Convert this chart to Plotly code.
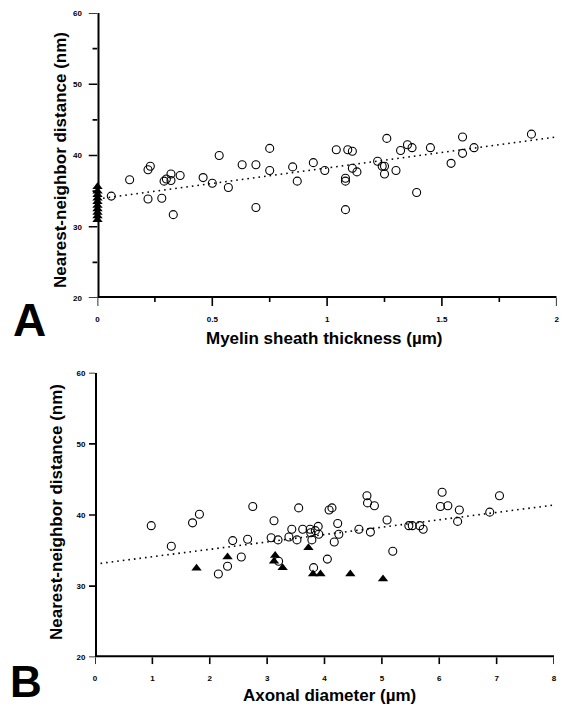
import plotly.graph_objects as go

# ---- Panel A data ----
a_circ_x = [0.06, 0.14, 0.22, 0.23, 0.22, 0.28, 0.29, 0.30, 0.32, 0.32, 0.36, 0.33, 0.46, 0.50, 0.53,
            0.57, 0.63, 0.69, 0.69, 0.75, 0.75, 0.85, 0.87, 0.94, 0.99, 1.04, 1.09, 1.11, 1.11, 1.13,
            1.08, 1.08, 1.08, 1.22, 1.24, 1.25, 1.25, 1.26, 1.30, 1.32, 1.35, 1.37, 1.39, 1.45, 1.54,
            1.59, 1.59, 1.64, 1.89]
a_circ_y = [34.3, 36.6, 38.0, 38.5, 33.9, 34.0, 36.4, 36.7, 37.4, 36.5, 37.2, 31.7, 36.9, 36.1, 40.0,
            35.5, 38.7, 38.7, 32.7, 41.0, 37.9, 38.4, 36.4, 39.0, 37.9, 40.8, 40.8, 40.6, 38.2, 37.7,
            36.8, 36.4, 32.4, 39.2, 38.5, 38.5, 37.4, 42.4, 37.9, 40.7, 41.5, 41.1, 34.8, 41.1, 38.9,
            42.6, 40.3, 41.1, 43.0]
a_tri_x = [0, 0, 0, 0, 0, 0, 0, 0, 0, 0]
a_tri_y = [31.0, 31.5, 32.0, 32.5, 33.0, 33.5, 34.0, 34.5, 35.0, 35.6]
a_fit_x = [0, 2]
a_fit_y = [33.9, 42.6]

# ---- Panel B data ----
b_circ_x = [0.98, 1.33, 1.70, 1.82, 2.15, 2.31, 2.40, 2.55, 2.66, 2.75, 3.07, 3.12, 3.19, 3.38, 3.43,
            3.52, 3.55, 3.20, 3.62, 3.75, 3.76, 3.78, 3.84, 3.89, 3.90, 3.81, 4.05, 4.08, 4.13, 4.17,
            4.23, 4.25, 4.60, 4.80, 4.74, 4.75, 4.87, 5.09, 5.19, 5.47, 5.53, 5.66, 5.72, 6.05, 6.02,
            6.15, 6.35, 6.32, 6.88, 7.05]
b_circ_y = [38.5, 35.6, 38.9, 40.1, 31.7, 32.8, 36.4, 34.1, 36.6, 41.2, 36.8, 39.2, 36.5, 36.9, 38.0,
            36.5, 41.0, 33.5, 38.0, 38.0, 37.5, 36.5, 37.8, 38.4, 37.3, 32.6, 33.8, 40.7, 41.0, 36.2,
            38.8, 37.3, 38.0, 37.6, 42.7, 41.7, 41.3, 39.3, 34.9, 38.5, 38.5, 38.5, 38.0, 43.2, 41.2,
            41.3, 40.7, 39.1, 40.4, 42.7]
b_tri_x = [1.77, 2.31, 3.14, 3.12, 3.27, 3.72, 3.80, 3.93, 4.45, 5.02]
b_tri_y = [32.5, 34.1, 34.3, 33.5, 32.6, 35.4, 31.7, 31.7, 31.7, 31.0]
b_fit_x = [0, 8]
b_fit_y = [33.1, 41.4]

# ---- tick values ----
a_x_major = [0, 0.5, 1, 1.5, 2]
a_x_minor = [0.25, 0.75, 1.25, 1.75]
a_y_major = [20, 30, 40, 50, 60]
a_y_minor = [25, 35, 45, 55]
b_x_major = [0, 1, 2, 3, 4, 5, 6, 7, 8]
b_y_major = [20, 30, 40, 50, 60]

x_title_a = "Myelin sheath thickness (µm)"
x_title_b = "Axonal diameter (µm)"
y_title = "Nearest-neighbor distance (nm)"

W, H = 564, 708
FONT = "Liberation Sans, Arial, sans-serif"

# plot boxes in pixels: left, right, top, bottom
A_BOX = (97.5, 556.7, 13, 298)
B_BOX = (95, 554, 372.7, 657.3)
A_XTL, A_YTL = 8, 9     # tick lengths (px)
B_XTL, B_YTL = 7, 6

fig = go.Figure()

circ = dict(symbol="circle-open", size=8, color="black", line=dict(width=1.1, color="black"))
tri = dict(symbol="triangle-up", size=9, color="black")
dot = dict(color="black", width=1.6, dash="1.6px,4px")
axline = dict(color="black", width=4)      # half is clipped -> 2 px visible
tickline = dict(color="black", width=1.6)


def seg_x(vals, lo, hi):
    xs, ys = [], []
    for v in vals:
        xs += [v, v, None]
        ys += [lo, hi, None]
    return xs, ys


def seg_y(vals, lo, hi):
    xs, ys = [], []
    for v in vals:
        xs += [lo, hi, None]
        ys += [v, v, None]
    return xs, ys


panels = [
    dict(xa="x", ya="y", xt="x3", yt="y3", xmaj=a_x_major, xmin=a_x_minor, ymaj=a_y_major, ymin=a_y_minor,
         fx=a_fit_x, fy=a_fit_y, cx=a_circ_x, cy=a_circ_y, tx=a_tri_x, ty=a_tri_y),
    dict(xa="x2", ya="y2", xt="x4", yt="y4", xmaj=b_x_major, xmin=[], ymaj=b_y_major, ymin=[],
         fx=b_fit_x, fy=b_fit_y, cx=b_circ_x, cy=b_circ_y, tx=b_tri_x, ty=b_tri_y),
]

for p in panels:
    x0, x1 = p["xmaj"][0], p["xmaj"][-1]
    y0, y1 = p["ymaj"][0], p["ymaj"][-1]
    # axis lines
    fig.add_trace(go.Scatter(x=[x0, x1], y=[y0, y0], mode="lines", line=axline,
                             xaxis=p["xa"], yaxis=p["ya"], showlegend=False, hoverinfo="skip"))
    fig.add_trace(go.Scatter(x=[x0, x0], y=[y0, y1], mode="lines", line=axline,
                             xaxis=p["xa"], yaxis=p["ya"], showlegend=False, hoverinfo="skip"))
    # x tick marks in the strip under the axis
    xs, ys = seg_x(p["xmaj"], 0, 1)
    xs2, ys2 = seg_x(p["xmin"], 0.5, 1)
    fig.add_trace(go.Scatter(x=xs + xs2, y=ys + ys2, mode="lines", line=tickline,
                             xaxis=p["xa"], yaxis=p["yt"], showlegend=False, hoverinfo="skip"))
    # y tick marks in the strip left of the axis
    xs, ys = seg_y(p["ymaj"], 0, 1)
    xs2, ys2 = seg_y(p["ymin"], 0.45, 1)
    fig.add_trace(go.Scatter(x=xs + xs2, y=ys + ys2, mode="lines", line=tickline,
                             xaxis=p["xt"], yaxis=p["ya"], showlegend=False, hoverinfo="skip"))
    # data
    fig.add_trace(go.Scatter(x=p["fx"], y=p["fy"], mode="lines", line=dot,
                             xaxis=p["xa"], yaxis=p["ya"], showlegend=False))
    fig.add_trace(go.Scatter(x=p["cx"], y=p["cy"], mode="markers", marker=circ,
                             xaxis=p["xa"], yaxis=p["ya"], showlegend=False, cliponaxis=False))
    fig.add_trace(go.Scatter(x=p["tx"], y=p["ty"], mode="markers", marker=tri,
                             xaxis=p["xa"], yaxis=p["ya"], showlegend=False, cliponaxis=False))

tickfont = dict(family=FONT, size=8, color="black", weight="bold")
CLEAR = "rgba(0,0,0,0)"
base = dict(showgrid=False, zeroline=False, mirror=False, automargin=False, showline=False,
            ticks="outside", tickwidth=1, tickcolor=CLEAR, tickfont=tickfont)
hidden = dict(visible=False, range=[0, 1], fixedrange=True, showgrid=False, zeroline=False)

fig.update_layout(
    template="simple_white",
    width=W, height=H, margin=dict(l=0, r=0, t=0, b=0),
    paper_bgcolor="white", plot_bgcolor="rgba(0,0,0,0)",
    xaxis=dict(domain=[A_BOX[0] / W, A_BOX[1] / W], anchor="y", range=[0, 2], tickvals=a_x_major,
               ticklen=A_XTL, ticklabelstandoff=5, **base),
    yaxis=dict(domain=[1 - A_BOX[3] / H, 1 - A_BOX[2] / H], anchor="x", range=[20, 60],
               tickvals=a_y_major, ticklen=A_YTL, ticklabelstandoff=4, **base),
    xaxis2=dict(domain=[B_BOX[0] / W, B_BOX[1] / W], anchor="y2", range=[0, 8], tickvals=b_x_major,
                ticklen=B_XTL, ticklabelstandoff=6, **base),
    yaxis2=dict(domain=[1 - B_BOX[3] / H, 1 - B_BOX[2] / H], anchor="x2", range=[20, 60],
                tickvals=b_y_major, ticklen=B_YTL, ticklabelstandoff=1, **base),
    # tick strips
    yaxis3=dict(domain=[1 - (A_BOX[3] + A_XTL) / H, 1 - A_BOX[3] / H], anchor="x", **hidden),
    xaxis3=dict(domain=[(A_BOX[0] - A_YTL) / W, A_BOX[0] / W], anchor="y", **hidden),
    yaxis4=dict(domain=[1 - (B_BOX[3] + B_XTL) / H, 1 - B_BOX[3] / H], anchor="x2", **hidden),
    xaxis4=dict(domain=[(B_BOX[0] - B_YTL) / W, B_BOX[0] / W], anchor="y2", **hidden),
)

title_font = dict(family=FONT, size=17, color="black", weight="bold")
ann = [
    dict(text=x_title_a, x=324 / W, y=1 - 338 / H, font=title_font, textangle=0),
    dict(text=x_title_b, x=329 / W, y=1 - 695 / H, font=title_font, textangle=0),
    dict(text=y_title, x=60 / W, y=1 - 160 / H, font=title_font, textangle=-90),
    dict(text=y_title, x=56 / W, y=1 - 512 / H, font=title_font, textangle=-90),
    dict(text="A", x=29 / W, y=1 - 320 / H, font=dict(family=FONT, size=46, color="black", weight="bold")),
    dict(text="B", x=26 / W, y=1 - 681 / H, font=dict(family=FONT, size=44, color="black", weight="bold")),
]
for a in ann:
    fig.add_annotation(xref="paper", yref="paper", showarrow=False, xanchor="center", yanchor="middle", **a)

fig.write_html("out.html", config={"displayModeBar": False},
               post_script="document.body.style.margin='0';")
